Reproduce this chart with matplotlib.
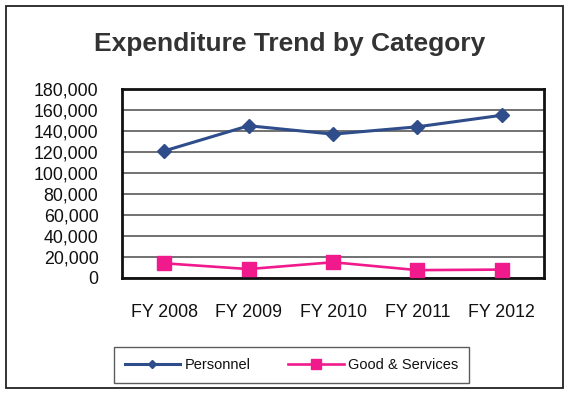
import matplotlib
matplotlib.use("Agg")
import matplotlib.pyplot as plt
from matplotlib.patches import Rectangle

plt.rcParams["font.family"] = ["Liberation Sans", "DejaVu Sans"]

# fiscal years and spending per category
years = ["FY 2008", "FY 2009", "FY 2010", "FY 2011", "FY 2012"]
personnel = [121000, 145000, 137000, 144000, 155000]
goods_services = [14000, 8500, 15000, 7500, 8000]

y_ticks = [0, 20000, 40000, 60000, 80000, 100000, 120000, 140000, 160000, 180000]
y_tick_labels = ["0", "20,000", "40,000", "60,000", "80,000", "100,000",
                 "120,000", "140,000", "160,000", "180,000"]

W, H = 569, 396
fig = plt.figure(figsize=(W / 100, H / 100), dpi=100)
fig.patch.set_facecolor("white")

# outer chart frame
fig.patches.append(Rectangle((6 / W, 1 - 388 / H), 557 / W, 382 / H,
                             transform=fig.transFigure, fill=False,
                             ec="#222222", lw=1.3))

ax = fig.add_axes([122 / W, 1 - 278 / H, 422 / W, 189 / H])
x = range(len(years))
ax.plot(x, personnel, "-D", color="#2f4d8a", lw=2.2, ms=7,
        label="Personnel", zorder=4)
ax.plot(x, goods_services, "-s", color="#f01a8c", lw=1.9, ms=10,
        label="Good & Services", zorder=4)

ax.set_xlim(-0.5, len(years) - 0.5)
ax.set_ylim(0, 180000)
ax.set_yticks(y_ticks)
ax.set_yticklabels(y_tick_labels)
ax.set_xticks(list(x))
ax.set_xticklabels(years)
ax.tick_params(length=0, labelsize=12.8, labelcolor="#111111")
ax.tick_params(axis="y", pad=17)
ax.tick_params(axis="x", pad=19)
ax.yaxis.grid(True, color="#4a4a4a", lw=1.1)
ax.set_axisbelow(True)
for s in ax.spines.values():
    s.set_color("#111111")
    s.set_linewidth(2.0)

fig.text(290 / W, 1 - 44 / H, "Expenditure Trend by Category",
         ha="center", va="center", fontsize=19, fontweight="bold",
         color="#333333")

leg = fig.legend(loc="center", bbox_to_anchor=(291.5 / W, 1 - 365 / H),
                 ncol=2, fontsize=10.5, frameon=True, fancybox=False,
                 edgecolor="#333333", handlelength=3.8, columnspacing=2.6,
                 handletextpad=0.3, borderpad=0.75, borderaxespad=0,
                 markerscale=0.65)
leg.get_frame().set_linewidth(1.0)
for t in leg.get_texts():
    t.set_color("#111111")

fig.savefig("out.png", dpi=100)
